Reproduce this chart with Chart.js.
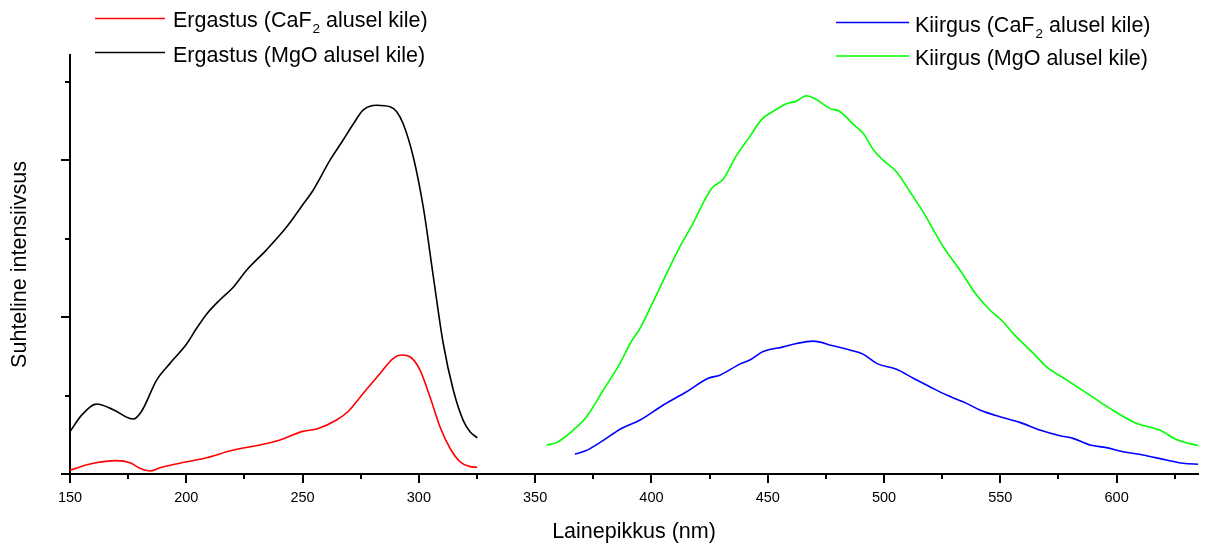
<!DOCTYPE html>
<html>
<head>
<meta charset="utf-8">
<script src="https://cdn.jsdelivr.net/npm/chart.js@4/dist/chart.umd.min.js"></script>
<style>
  html, body { margin: 0; padding: 0; background: #fff; }
  #wrap { width: 1206px; height: 548px; }
</style>
</head>
<body>
<div id="wrap"><canvas id="c" width="1206" height="548"></canvas></div>
<script>
// ---- data (wavelength in nm, relative intensity in arbitrary units) ----
const ergCaF2X = [150, 160, 170, 175.8, 180.1, 184.4, 188.7, 200.2, 208.8, 220.2, 231.7, 240.3, 249.6, 256.7, 264.6, 269.7, 276.1, 283.3, 289, 292.6, 296.2, 300.5, 304.8, 309.1, 313.4, 317.7, 322, 325.1];
const ergCaF2Y = [0.025, 0.068, 0.085, 0.072, 0.036, 0.019, 0.04, 0.078, 0.104, 0.153, 0.185, 0.217, 0.27, 0.29, 0.344, 0.40, 0.514, 0.64, 0.737, 0.758, 0.747, 0.662, 0.49, 0.30, 0.164, 0.078, 0.047, 0.043];

const ergMgOX = [150, 155, 161.5, 168.6, 177.2, 180.8, 187.3, 193, 200.2, 204.5, 208.8, 214.5, 220.2, 226, 234.6, 243.2, 250.3, 254.6, 261.8, 267.5, 271.8, 276.1, 281.9, 287.6, 290.4, 293.3, 297.6, 301.9, 306.2, 310.5, 314.8, 319.1, 322, 325.1];
const ergMgOY = [0.27, 0.375, 0.446, 0.41, 0.35, 0.40, 0.60, 0.705, 0.83, 0.93, 1.02, 1.11, 1.19, 1.30, 1.43, 1.575, 1.72, 1.81, 2.00, 2.13, 2.23, 2.32, 2.35, 2.34, 2.31, 2.23, 2.02, 1.70, 1.26, 0.83, 0.535, 0.34, 0.27, 0.23];

const kiirCaF2X = [367.1, 371.4, 377.8, 387.1, 395.1, 405.1, 415.1, 424.4, 429.4, 438, 442.3, 448, 456.7, 462.4, 469.5, 478.1, 485.3, 491, 496.8, 505.4, 512.6, 519.7, 526.9, 535.5, 541.2, 549.8, 558.4, 567, 575.6, 581.3, 588.5, 595.6, 602.8, 611.4, 621.4, 628.6, 635.8];
const kiirCaF2Y = [0.127, 0.146, 0.20, 0.29, 0.344, 0.44, 0.524, 0.61, 0.63, 0.70, 0.726, 0.78, 0.81, 0.832, 0.847, 0.817, 0.79, 0.764, 0.705, 0.667, 0.61, 0.556, 0.503, 0.45, 0.408, 0.365, 0.329, 0.28, 0.244, 0.227, 0.185, 0.168, 0.142, 0.121, 0.089, 0.068, 0.062];

const kiirMgOX = [354.9, 359.2, 366.4, 372.1, 379.3, 386.5, 390.8, 395.1, 400.8, 406.6, 412.3, 418, 422.3, 425.9, 430.9, 436.6, 442.3, 447.4, 452.2, 458, 462.3, 466.6, 470.9, 476.7, 481, 486.7, 491.1, 495.3, 499.6, 505.4, 511.1, 516.8, 525.4, 532.6, 539.8, 545.5, 551.2, 555.5, 564.1, 569.9, 578.5, 588.5, 597.1, 608.5, 618.5, 625.7, 635.8];
const kiirMgOY = [0.185, 0.20, 0.28, 0.365, 0.535, 0.705, 0.83, 0.928, 1.10, 1.28, 1.45, 1.60, 1.73, 1.82, 1.88, 2.03, 2.15, 2.26, 2.31, 2.36, 2.376, 2.41, 2.386, 2.33, 2.31, 2.23, 2.17, 2.07, 2.00, 1.925, 1.80, 1.67, 1.45, 1.30, 1.14, 1.045, 0.97, 0.896, 0.77, 0.683, 0.60, 0.503, 0.418, 0.323, 0.28, 0.22, 0.178];

const seriesLabels = [
  'Ergastus (CaF\u2082 alusel kile)',
  'Ergastus (MgO alusel kile)',
  'Kiirgus (CaF\u2082 alusel kile)',
  'Kiirgus (MgO alusel kile)'
];
const seriesColors = ['#ff0000', '#000000', '#0000ff', '#00ff00'];
const xTickLabels = [150, 200, 250, 300, 350, 400, 450, 500, 550, 600];
const xTitle = 'Lainepikkus (nm)';
const yTitle = 'Suhteline intensiivsus';

function pts(xs, ys) { return xs.map((x, i) => ({ x: x, y: ys[i] })); }

const FONT = '"Liberation Sans", Arial, Helvetica, sans-serif';
Chart.defaults.font.family = FONT;
Chart.defaults.color = '#000';

// custom tick marks: long major ticks, short minor ticks, pointing outward
const tickPlugin = {
  id: 'ticks',
  afterDraw(chart) {
    const ctx = chart.ctx;
    const xs = chart.scales.x, ys = chart.scales.y;
    const area = chart.chartArea;
    ctx.save();
    ctx.strokeStyle = '#000';
    ctx.lineWidth = 2;
    ctx.beginPath();
    xs.ticks.forEach(t => {
      const px = Math.round(xs.getPixelForValue(t.value));
      const major = Math.abs(t.value % 50) < 1e-6;
      ctx.moveTo(px, area.bottom);
      ctx.lineTo(px, area.bottom + (major ? 9 : 5));
    });
    ys.ticks.forEach(t => {
      const py = Math.round(ys.getPixelForValue(t.value));
      const major = Math.abs(t.value % 1) < 1e-6;
      ctx.moveTo(area.left, py);
      ctx.lineTo(area.left - (major ? 9 : 5), py);
    });
    ctx.stroke();
    ctx.restore();
  }
};

// custom legend with subscript "2"
const legendPlugin = {
  id: 'customLegend',
  afterDraw(chart) {
    const ctx = chart.ctx;
    const ds = chart.data.datasets;
    const rows = [
      { i: 0, x0: 95, x1: 165, tx: 173, ly: 18.5, by: 27 },
      { i: 1, x0: 95, x1: 165, tx: 173, ly: 52.5, by: 61.5 },
      { i: 2, x0: 836, x1: 909, tx: 915, ly: 22.5, by: 31.5 },
      { i: 3, x0: 836, x1: 909, tx: 915, ly: 56, by: 65 }
    ];
    ctx.save();
    rows.forEach(r => {
      const d = ds[r.i];
      ctx.strokeStyle = d.borderColor;
      ctx.lineWidth = 1.6;
      ctx.beginPath();
      ctx.moveTo(r.x0, r.ly);
      ctx.lineTo(r.x1, r.ly);
      ctx.stroke();
      ctx.fillStyle = '#000';
      ctx.textBaseline = 'alphabetic';
      ctx.textAlign = 'left';
      const parts = d.label.split('\u2082');
      let x = r.tx;
      ctx.font = '21.5px ' + FONT;
      ctx.fillText(parts[0], x, r.by);
      x += ctx.measureText(parts[0]).width;
      if (parts.length > 1) {
        ctx.font = '13.5px ' + FONT;
        ctx.fillText('2', x + 1, r.by + 6);
        x += ctx.measureText('2').width + 1;
        ctx.font = '21.5px ' + FONT;
        ctx.fillText(parts[1], x, r.by);
      }
    });
    ctx.restore();
  }
};

const mk = (xs, ys, i) => ({
  label: seriesLabels[i],
  data: pts(xs, ys),
  borderColor: seriesColors[i],
  backgroundColor: seriesColors[i],
  borderWidth: 1.6,
  pointRadius: 0,
  fill: false,
  cubicInterpolationMode: 'monotone'
});

new Chart(document.getElementById('c'), {
  type: 'line',
  data: {
    datasets: [
      mk(ergCaF2X, ergCaF2Y, 0),
      mk(ergMgOX, ergMgOY, 1),
      mk(kiirCaF2X, kiirCaF2Y, 2),
      mk(kiirMgOX, kiirMgOY, 3)
    ]
  },
  options: {
    responsive: false,
    animation: false,
    events: [],
    layout: { padding: { top: 55, right: 8, left: 0, bottom: 0 } },
    plugins: { legend: { display: false }, tooltip: { enabled: false } },
    scales: {
      x: {
        type: 'linear',
        min: 150, max: 635,
        afterFit(s) { s.height = 74; },
        grid: { display: true, drawOnChartArea: false, drawTicks: false },
        border: { display: true, color: '#000', width: 2 },
        ticks: {
          stepSize: 25,
          includeBounds: false,
          autoSkip: false,
          maxRotation: 0,
          padding: 15,
          font: { size: 14.5 },
          color: '#000',
          callback: v => xTickLabels.includes(v) ? String(v) : ''
        },
        title: {
          display: true, text: xTitle, color: '#000',
          font: { size: 21.5 }, padding: { top: 0, bottom: 3 }
        }
      },
      y: {
        type: 'linear',
        min: 0, max: 2.67,
        afterFit(s) { s.width = 70; },
        grid: { display: true, drawOnChartArea: false, drawTicks: false },
        border: { display: true, color: '#000', width: 2 },
        ticks: {
          stepSize: 0.5,
          includeBounds: false,
          display: true,
          callback: () => ''
        },
        title: {
          display: true, text: yTitle, color: '#000',
          font: { size: 21.5 }, padding: { top: 7.5, bottom: 0 }
        }
      }
    }
  },
  plugins: [tickPlugin, legendPlugin]
});
</script>
</body>
</html>
